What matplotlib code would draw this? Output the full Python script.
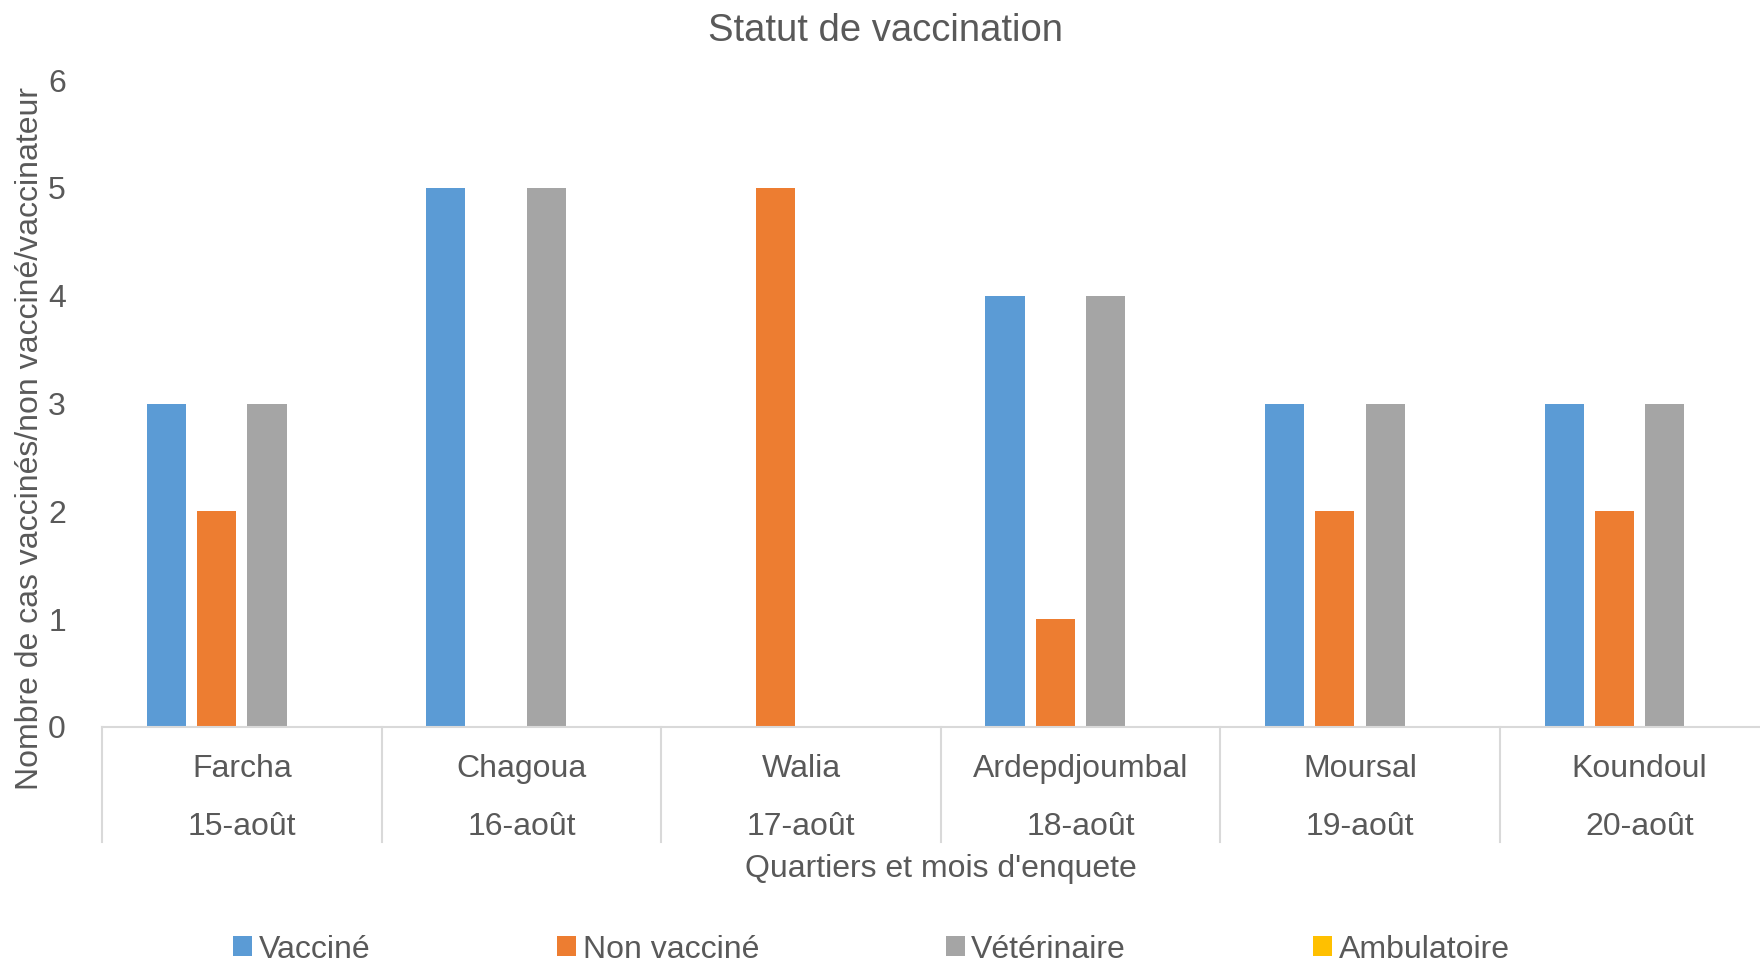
import matplotlib
matplotlib.use('Agg')
from matplotlib import pyplot as plt
import numpy as np

plt.rcParams['font.family'] = ['Liberation Sans', 'DejaVu Sans']

quartiers = ['Farcha', 'Chagoua', 'Walia', 'Ardepdjoumbal', 'Moursal', 'Koundoul']
dates = ['15-août', '16-août', '17-août', '18-août', '19-août', '20-août']
vaccine = [3, 5, 0, 4, 3, 3]
non_vaccine = [2, 0, 5, 1, 2, 2]
veterinaire = [3, 5, 0, 4, 3, 3]
ambulatoire = [0, 0, 0, 0, 0, 0]

series = [('Vacciné', vaccine, '#5B9BD5'),
          ('Non vacciné', non_vaccine, '#ED7D31'),
          ('Vétérinaire', veterinaire, '#A5A5A5'),
          ('Ambulatoire', ambulatoire, '#FFC000')]

txt = '#595959'
fs = 23
fig = plt.figure(figsize=(17.6, 9.64), dpi=100)
ax = fig.add_axes([0.058, 0.2459, 0.953, 0.671])

x = np.arange(len(quartiers))
for i, (name, vals, col) in enumerate(series):
    ax.bar(x + (i - 1.5) * 0.18, vals, width=0.14, color=col, label=name, zorder=2)

ax.set_xlim(-0.5, len(quartiers) - 0.5)
ax.set_ylim(0, 6)
ax.set_yticks(range(7))
ax.tick_params(axis='y', length=0, pad=26, labelsize=fs, labelcolor=txt)
ax.set_xticks([])
for s in ['top', 'right', 'left']:
    ax.spines[s].set_visible(False)
ax.spines['bottom'].set_color('#D9D9D9')
ax.spines['bottom'].set_linewidth(1.5)

# category labels and separators
tr = ax.get_xaxis_transform()
for i in range(len(quartiers)):
    ax.text(i, -0.065, quartiers[i], transform=tr, ha='center', va='center', fontsize=fs, color=txt)
    ax.text(i, -0.154, dates[i], transform=tr, ha='center', va='center', fontsize=fs, color=txt)
for b in np.arange(-0.5, len(quartiers), 1):
    ax.plot([b, b], [0, -0.178], transform=tr, color='#D9D9D9', lw=1.5, clip_on=False)

ax.text(0.5, -0.22, "Quartiers et mois d'enquete", transform=ax.transAxes,
        ha='center', va='center', fontsize=fs, color=txt)
fig.text(0.017, 0.545, 'Nombre de cas vaccinés/non vacciné/vaccinateur', rotation=90,
         ha='center', va='center', fontsize=fs, color=txt)
fig.text(0.503, 0.968, 'Statut de vaccination', ha='center', va='center', fontsize=27.5, color=txt)

fig.legend(loc='center', bbox_to_anchor=(0.495, 0.015), ncol=4, frameon=False,
           fontsize=fs, handlelength=0.6, handleheight=0.6, handletextpad=0.2,
           columnspacing=5.85, labelcolor=txt)

fig.savefig('out.png', dpi=100)
